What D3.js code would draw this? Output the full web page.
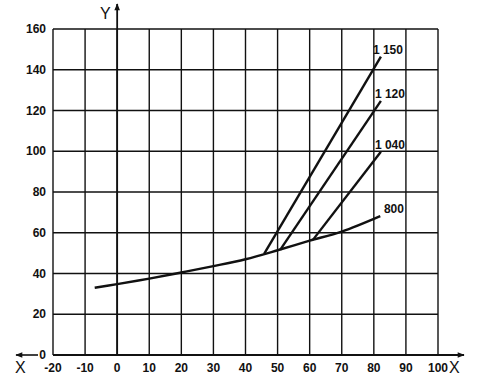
<!DOCTYPE html>
<html><head><meta charset="utf-8">
<script src="https://cdn.jsdelivr.net/npm/d3@7"></script>
<style>body{margin:0;background:#fff}svg{display:block}text{font-family:"Liberation Sans",Arial,sans-serif;fill:#111}</style>
</head><body><svg id="c" width="479" height="390"></svg>
<script>
const xTicks = [-20,-10,0,10,20,30,40,50,60,70,80,90,100];
const yTicks = [0,20,40,60,80,100,120,140,160];
const curve800X = [-7,0,10,20,30,40,50,60,70,82];
const curve800Y = [33,34.8,37.5,40.5,43.6,47,51.4,56.1,60.6,68.2];
const lineLabels = ["1 150","1 120","1 040","800"];
const lineStartX = [45.8,50.8,61];
const lineStartY = [49.6,51.6,56.5];
const lineEndX = [82.2,82.2,82.2];
const lineEndY = [146.4,124.7,99.8];

const svg = d3.select("#c");
const x = d3.scaleLinear().domain([-20,100]).range([53,438]);
const y = d3.scaleLinear().domain([0,160]).range([355,29]);
const ink = "#111";

// grid
svg.append("g").selectAll("line").data(xTicks).join("line")
  .attr("x1",d=>x(d)).attr("x2",d=>x(d)).attr("y1",y(0)).attr("y2",y(160))
  .attr("stroke",ink).attr("stroke-width",1.4);
svg.append("g").selectAll("line").data(yTicks).join("line")
  .attr("x1",x(-20)).attr("x2",x(100)).attr("y1",d=>y(d)).attr("y2",d=>y(d))
  .attr("stroke",ink).attr("stroke-width",1.4);

// axes with arrows
const defs = svg.append("defs");
defs.append("marker").attr("id","arr").attr("viewBox","0 0 10 10").attr("refX",9).attr("refY",5)
  .attr("markerWidth",9).attr("markerHeight",7).attr("markerUnits","userSpaceOnUse").attr("orient","auto")
  .append("path").attr("d","M0,1 L10,5 L0,9 Z").attr("fill",ink);
svg.append("line").attr("x1",x(-20)).attr("x2",464).attr("y1",y(0)).attr("y2",y(0))
  .attr("stroke",ink).attr("stroke-width",1.8).attr("marker-end","url(#arr)");
svg.append("line").attr("x1",x(0)).attr("x2",x(0)).attr("y1",y(0)).attr("y2",4)
  .attr("stroke",ink).attr("stroke-width",1.8).attr("marker-end","url(#arr)");
svg.append("line").attr("x1",38).attr("x2",16).attr("y1",y(0)).attr("y2",y(0))
  .attr("stroke",ink).attr("stroke-width",1.6).attr("marker-end","url(#arr)");

// tick labels
svg.append("g").selectAll("text").data(xTicks).join("text")
  .attr("x",d=>x(d)).attr("y",372).attr("text-anchor","middle")
  .attr("font-size",12).attr("font-weight","bold").text(d=>d);
svg.append("g").selectAll("text").data(yTicks).join("text")
  .attr("x",46).attr("y",d=>y(d)+4).attr("text-anchor","end")
  .attr("font-size",12).attr("font-weight","bold").text(d=>d);

svg.append("text").attr("x",449).attr("y",373).attr("font-size",16).text("X");
svg.append("text").attr("x",15).attr("y",373).attr("font-size",16).text("X");
svg.append("text").attr("x",100).attr("y",19).attr("font-size",16).text("Y");

// curves
const line = d3.line().x(d=>x(d[0])).y(d=>y(d[1])).curve(d3.curveCatmullRom);
svg.append("path").datum(d3.zip(curve800X,curve800Y)).attr("d",line)
  .attr("fill","none").attr("stroke",ink).attr("stroke-width",2.4);
svg.append("g").selectAll("line").data(lineStartX).join("line")
  .attr("x1",(d,i)=>x(d)).attr("y1",(d,i)=>y(lineStartY[i]))
  .attr("x2",(d,i)=>x(lineEndX[i])).attr("y2",(d,i)=>y(lineEndY[i]))
  .attr("stroke",ink).attr("stroke-width",2.4);

// labels
const labY = [lineEndY[0],lineEndY[1],lineEndY[2],curve800Y[curve800Y.length-1]];
const labDx = [-8,-6,-6,3];
svg.append("g").selectAll("text").data(lineLabels).join("text")
  .attr("x",(d,i)=>x(82.2)+labDx[i]).attr("y",(d,i)=>y(labY[i])-3)
  .attr("font-size",12).attr("font-weight","bold").text(d=>d);
</script></body></html>
